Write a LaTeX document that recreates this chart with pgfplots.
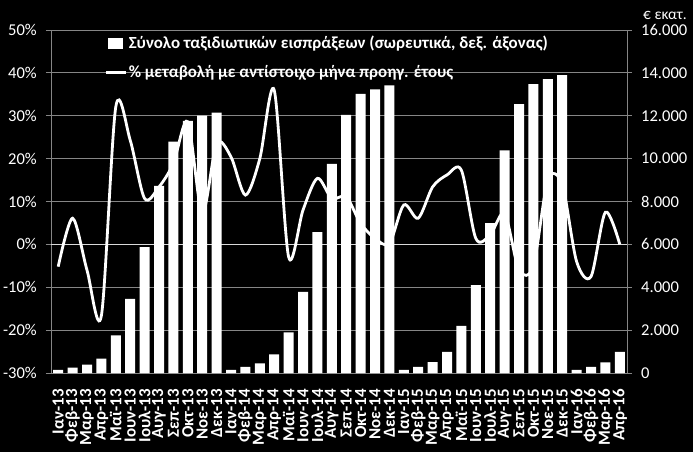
\documentclass[border=0pt]{standalone}
\usepackage{fontspec}
\setmainfont{Carlito}
\usepackage{pgfplots}
\pgfplotsset{compat=1.18}
\definecolor{gridgray}{RGB}{134,134,134}

% cumulative travel receipts (EUR mn), right axis
\pgfplotstableread{
x  val
0  150
1  250
2  390
3  670
4  1750
5  3460
6  5870
7  8730
8  10790
9  11760
10 12000
11 12140
12 140
13 280
14 450
15 870
16 1890
17 3790
18 6570
19 9750
20 12040
21 13020
22 13230
23 13420
24 140
25 290
26 510
27 980
28 2200
29 4100
30 6990
31 10390
32 12540
33 13470
34 13710
35 13900
36 140
37 280
38 490
39 980
}\receipts

% % change vs same month of previous year, left axis
\pgfplotstableread{
x  pct
0  -5.2
1  6.1
2  -6
3  -16.6
4  32.1
5  24.3
6  10.7
7  13.4
8  18.9
9  28.6
10 7.2
11 23.5
12 20.4
13 11.5
14 20
15 36
16 -2.9
17 8
18 15.4
19 10.7
20 11.1
21 4.9
22 1.4
23 0.2
24 9.2
25 6.1
26 13.4
27 16.2
28 17.3
29 1.4
30 2.2
31 7.2
32 -6
33 -5
34 15
35 14
36 -4
37 -7.5
38 7.5
39 0
}\change

\pgfplotsset{
  common/.style={
    width=576bp, height=343bp, scale only axis,
    xmin=-0.5, xmax=39.5,
    axis line style={gridgray, line width=0.8bp},
    tick style={gridgray, line width=0.8bp},
    major tick length=5bp,
    tick align=outside,
    ticklabel style={white, font=\fontsize{16.6}{16.6}\selectfont},
    /pgf/number format/assume math mode=true,
  },
}

\begin{document}
\begin{tikzpicture}
\fill[black] (-51bp,-79bp) rectangle (642bp,373bp);

\begin{axis}[common,
  name=ax,
  axis x line*=bottom, axis y line*=left,
  ymin=-30, ymax=50, ytick={-30,-20,...,50},
  yticklabel={\pgfmathprintnumber{\tick}\%},
  ymajorgrids, grid style={gridgray, line width=0.8bp},
  extra y ticks={0}, extra y tick labels={},
  extra y tick style={grid style={white!85!black, line width=1.2bp}},
  xtick={0,...,39},
  xtick style={draw=none},
  xticklabels={Ιαν-13,Φεβ-13,Μαρ-13,Απρ-13,Μαϊ-13,Ιουν-13,Ιουλ-13,Αυγ-13,Σεπ-13,Οκτ-13,Νοε-13,Δεκ-13,
    Ιαν-14,Φεβ-14,Μαρ-14,Απρ-14,Μαϊ-14,Ιουν-14,Ιουλ-14,Αυγ-14,Σεπ-14,Οκτ-14,Νοε-14,Δεκ-14,
    Ιαν-15,Φεβ-15,Μαρ-15,Απρ-15,Μαϊ-15,Ιουν-15,Ιουλ-15,Αυγ-15,Σεπ-15,Οκτ-15,Νοε-15,Δεκ-15,
    Ιαν-16,Φεβ-16,Μαρ-16,Απρ-16},
  xticklabel style={rotate=90, anchor=east, inner sep=0pt,
    font=\bfseries\fontsize{17}{17}\selectfont},
  xticklabel shift=11bp,
  yticklabel style={inner sep=0pt}, yticklabel shift=9bp,
]
\addplot[white, line width=2.8bp, smooth, mark=none] table[x=x, y=pct] {\change};
\end{axis}

\begin{axis}[common,
  axis y line*=right, axis x line=none,
  ymin=0, ymax=16000, ytick={0,2000,...,16000},
  scaled y ticks=false,
  yticklabel style={/pgf/number format/1000 sep={.}, inner sep=0pt, anchor=west},
  yticklabel shift=9bp,
  legend style={at={(axis description cs:0.093,0.985)}, anchor=north west,
    draw=none, fill=none, text=white, inner sep=0pt,
    font=\bfseries\fontsize{17}{17}\selectfont, row sep=13bp,
    nodes={inner sep=1bp}},
  legend cell align=left,
]
\addplot[ybar, bar width=10bp, fill=white, draw=none,
  legend image code/.code={\fill[white] (0bp,-5.5bp) rectangle (15bp,5.5bp);}]
  table[x=x, y=val] {\receipts};
\addlegendentry{Σύνολο ταξιδιωτικών εισπράξεων (σωρευτικά, δεξ. άξονας)}
\addlegendimage{white, line width=3bp, legend image code/.code={\draw[white, line width=3bp] (-2bp,0bp) -- (18bp,0bp);}}
\addlegendentry{\% μεταβολή με αντίστοιχο μήνα προηγ. έτους}
\end{axis}

\node[white, font=\fontsize{15.5}{15.5}\selectfont] at ([shift={(38bp,15bp)}]ax.north east) {€ εκατ.};

\pgfresetboundingbox
\path (-51bp,-79bp) rectangle (642bp,373bp);
\end{tikzpicture}
\end{document}
